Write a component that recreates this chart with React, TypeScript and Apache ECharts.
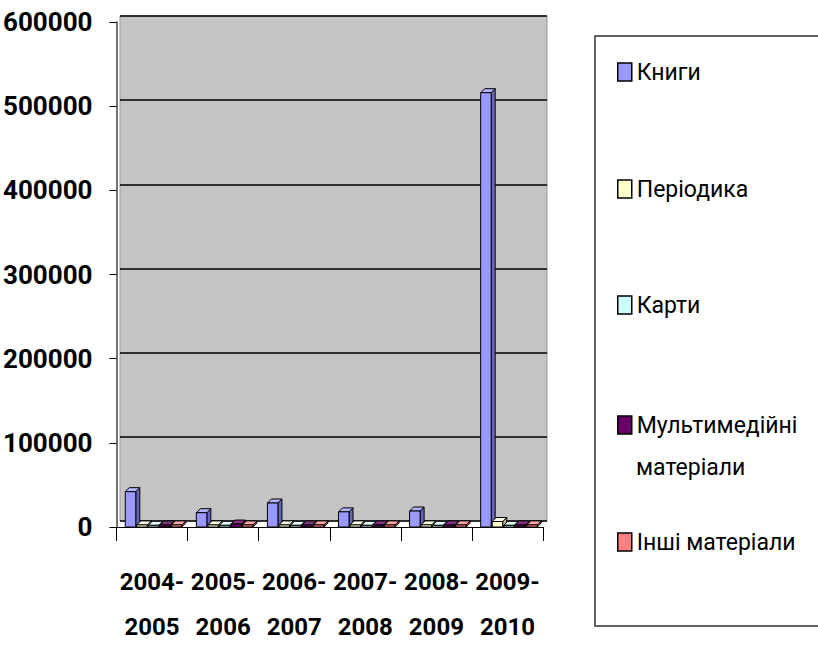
import React, { useEffect, useRef } from "react";
import * as echarts from "echarts";

const categories = ["2004-\n2005", "2005-\n2006", "2006-\n2007", "2007-\n2008", "2008-\n2009", "2009-\n2010"];
const seriesNames = ["Книги", "Періодика", "Карти", "Мультимедійні матеріали", "Інші матеріали"];
const books = [42000, 17000, 28500, 18000, 19000, 516000];
const periodicals = [2500, 2500, 2500, 2500, 2500, 6500];
const maps = [2000, 2000, 2000, 2000, 2000, 2000];
const multimedia = [2500, 3500, 2500, 2500, 2500, 2500];
const other = [2500, 2500, 2500, 2500, 2500, 2500];
const yTicks = [0, 100000, 200000, 300000, 400000, 500000, 600000];

const seriesValues = [books, periodicals, maps, multimedia, other];
const colors = ["#9999FF", "#FFFFCC", "#CCFFFF", "#660066", "#FF8080"];
const sideColors = ["#6666BB", "#BBBB99", "#99BBBB", "#440044", "#BB5C5C"];
const topColors = ["#B3B3FF", "#FFFFE6", "#E6FFFF", "#803380", "#FFA6A6"];
const legendCenters = [72, 189, 305, 425, 542];

const FONT = "Roboto, 'Noto Sans', sans-serif";

export default function App() {
  const ref = useRef<HTMLDivElement>(null);
  useEffect(() => {
    if (!ref.current) return;
    const chart = echarts.init(ref.current, undefined, { renderer: "svg" });
    const groupFrac = 0.81;
    const depth = 4;
    const makeRender = (si: number) => (params: any, api: any) => {
      const ci = api.value(0);
      const v = api.value(1);
      const base = api.coord([ci, 0]);
      const topPt = api.coord([ci, v]);
      const band = api.size([1, 0])[0];
      const slot = (band * groupFrac) / 5;
      const x = base[0] - (band * groupFrac) / 2 + si * slot + 2;
      const w = slot - 1;
      const yb = base[1];
      const yt = topPt[1];
      const stroke = { stroke: "#000", lineWidth: 1 };
      return {
        type: "group",
        children: [
          {
            type: "polygon",
            shape: { points: [[x + w, yt], [x + w + depth, yt - depth], [x + w + depth, yb - depth], [x + w, yb]] },
            style: { fill: sideColors[si], ...stroke },
          },
          {
            type: "polygon",
            shape: { points: [[x, yt], [x + depth, yt - depth], [x + w + depth, yt - depth], [x + w, yt]] },
            style: { fill: topColors[si], ...stroke },
          },
          {
            type: "rect",
            shape: { x, y: yt, width: w, height: yb - yt },
            style: { fill: colors[si], ...stroke },
          },
        ],
      };
    };

    const legends = seriesNames.map((name, i) => ({
      data: [name],
      left: 617,
      top: legendCenters[i] - 14,
      padding: 0,
      orient: "vertical",
      itemWidth: 14,
      itemHeight: 18,
      icon: "rect",
      selectedMode: false,
      itemStyle: { borderColor: "#000", borderWidth: 1.5 },
      formatter: (n: string) => (n === "Мультимедійні матеріали" ? "Мультимедійні" : n),
      textStyle: {
        fontFamily: FONT,
        fontSize: 23,
        color: "#000",
        lineHeight: 28,
      },
    }));

    chart.setOption({
      animation: false,
      backgroundColor: "#fff",
      graphic: [
        {
          type: "rect",
          shape: { x: 595, y: 36, width: 240, height: 590 },
          style: { fill: "none", stroke: "#333", lineWidth: 1.5 },
        },
        {
          type: "text",
          left: 636,
          top: 456,
          style: { text: "матеріали", fontFamily: FONT, fontSize: 23, fill: "#000" },
        },
      ],
      legend: legends,
      grid: [
        { left: 120, top: 16, right: 271, bottom: 129, show: true, backgroundColor: "#C4C4C4", borderColor: "#999", borderWidth: 1 },
        { left: 115, top: 22, right: 275, bottom: 123, show: false },
      ],
      xAxis: [
        { type: "category", gridIndex: 0, data: categories, show: false },
        {
          type: "category",
          gridIndex: 1,
          data: categories,
          axisLine: { lineStyle: { color: "#000", width: 1.2 } },
          axisTick: { show: true, length: 14, lineStyle: { color: "#000" } },
          axisLabel: {
            interval: 0,
            margin: 32,
            fontFamily: FONT,
            fontWeight: "bold",
            fontSize: 24,
            lineHeight: 45,
            color: "#000",
          },
        },
      ],
      yAxis: [
        {
          type: "value",
          gridIndex: 0,
          min: 0,
          max: 600000,
          interval: 100000,
          axisLabel: { show: false },
          axisLine: { show: false },
          axisTick: { show: false },
          splitLine: { show: true, lineStyle: { color: "#000", width: 1.5 } },
        },
        {
          type: "value",
          gridIndex: 1,
          min: yTicks[0],
          max: yTicks[yTicks.length - 1],
          interval: 100000,
          axisLine: { show: true, lineStyle: { color: "#444", width: 1.5 } },
          axisTick: { show: true, length: 7, lineStyle: { color: "#000" } },
          splitLine: { show: false },
          axisLabel: {
            margin: 24,
            fontFamily: FONT,
            fontWeight: "bold",
            fontSize: 26,
            color: "#000",
            formatter: (v: number) => String(v),
          },
        },
      ],
      series: seriesNames.map((name, si) => ({
        name,
        type: "custom",
        xAxisIndex: 1,
        yAxisIndex: 1,
        itemStyle: { color: colors[si] },
        renderItem: makeRender(si),
        encode: { x: 0, y: 1 },
        data: seriesValues[si].map((v, ci) => [ci, v]),
      })),
    });
    return () => chart.dispose();
  }, []);
  return <div ref={ref} style={{ width: 818, height: 650, position: "absolute", left: 0, top: 0 }} />;
}
